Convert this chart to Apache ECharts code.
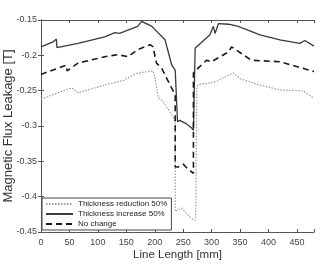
<!DOCTYPE html>
<html>
<head>
<meta charset="utf-8">
<script src="https://cdn.jsdelivr.net/npm/echarts@6/dist/echarts.min.js"></script>
<style>
  html, body { margin: 0; padding: 0; background: #fff; }
  #chart { width: 327px; height: 264px; }
</style>
</head>
<body>
<div id="chart"></div>
<script>
const seriesNames = ["Thickness reduction 50%", "Thickness increase 50%", "No change"];

// Thickness reduction 50% (dotted)
const reductionX = [0, 50, 56, 65, 112, 147, 156, 170, 197, 200, 206, 215, 230, 236, 236, 247, 256, 268, 272, 274, 282, 291, 309, 318, 338, 350, 385, 420, 455, 462, 480];
const reductionY = [-0.262, -0.247, -0.247, -0.253, -0.242, -0.235, -0.230, -0.225, -0.222, -0.230, -0.259, -0.266, -0.284, -0.294, -0.421, -0.416, -0.424, -0.433, -0.433, -0.244, -0.240, -0.240, -0.237, -0.233, -0.225, -0.233, -0.242, -0.249, -0.250, -0.251, -0.261];

// Thickness increase 50% (solid)
const increaseX = [0, 21, 27, 28, 65, 112, 130, 138, 170, 177, 180, 195, 218, 230, 236, 240, 244, 256, 265, 268, 271, 297, 303, 306, 312, 330, 347, 356, 385, 420, 455, 464, 480];
const increaseY = [-0.188, -0.181, -0.177, -0.189, -0.183, -0.174, -0.168, -0.169, -0.159, -0.152, -0.154, -0.159, -0.178, -0.214, -0.221, -0.294, -0.292, -0.297, -0.303, -0.306, -0.190, -0.171, -0.159, -0.169, -0.155, -0.156, -0.159, -0.162, -0.171, -0.178, -0.183, -0.179, -0.187];

// No change (dashed)
const noChangeX = [0, 44, 46, 53, 65, 112, 135, 153, 170, 192, 197, 203, 212, 227, 236, 236, 241, 250, 256, 268, 268, 271, 279, 291, 300, 315, 330, 335, 370, 420, 480];
const noChangeY = [-0.227, -0.214, -0.222, -0.218, -0.211, -0.202, -0.199, -0.202, -0.192, -0.185, -0.188, -0.211, -0.218, -0.242, -0.256, -0.358, -0.358, -0.354, -0.359, -0.367, -0.225, -0.225, -0.216, -0.207, -0.209, -0.202, -0.195, -0.188, -0.207, -0.209, -0.223];

const yTicks = ["-0.45", "-0.4", "-0.35", "-0.3", "-0.25", "-0.2", "-0.15"];

const zip = (xs, ys) => xs.map((x, i) => [x, ys[i]]);

const FONT = "'Liberation Sans', Arial, sans-serif";
const AXIS_COLOR = "#555";
const TEXT_COLOR = "#444";

const chart = echarts.init(document.getElementById("chart"), null, { renderer: "canvas" });

const hiddenAxis = {
  axisLine: { show: true, lineStyle: { color: AXIS_COLOR, width: 1 } },
  axisTick: { show: true, inside: true, length: 3, lineStyle: { color: AXIS_COLOR } },
  axisLabel: { show: false },
  splitLine: { show: false },
};

chart.setOption({
  animation: false,
  backgroundColor: "#fff",
  grid: { left: 41, right: 13, top: 20, bottom: 32, containLabel: false, outerBoundsMode: "none" },
  legend: {
    orient: "vertical",
    left: 42,
    bottom: 34,
    data: seriesNames,
    itemWidth: 27,
    itemHeight: 8,
    itemGap: 2,
    padding: [2, 4, 2, 3],
    borderColor: "#444",
    borderWidth: 1,
    backgroundColor: "#fff",
    itemStyle: { opacity: 0 },
    textStyle: { fontFamily: FONT, fontSize: 8, color: "#222" },
  },
  xAxis: [
    {
      type: "value",
      min: 0,
      max: 480,
      interval: 50,
      name: "Line Length [mm]",
      nameLocation: "middle",
      nameGap: 17,
      nameMoveOverlap: false,
      nameTextStyle: { fontFamily: FONT, fontSize: 11.5, color: "#333" },
      axisLine: { show: true, onZero: false, lineStyle: { color: AXIS_COLOR, width: 1 } },
      axisTick: { show: true, inside: true, length: 3, lineStyle: { color: AXIS_COLOR } },
      axisLabel: {
        fontFamily: FONT, fontSize: 9, color: TEXT_COLOR, margin: 6,
        formatter: (v) => (v > 450 ? "" : String(v)),
      },
      splitLine: { show: false },
    },
    { type: "value", position: "top", min: 0, max: 480, interval: 50, ...hiddenAxis },
  ],
  yAxis: [
    {
      type: "value",
      min: -0.45,
      max: -0.15,
      interval: 0.05,
      name: "Magnetic Flux Leakage [T]",
      nameLocation: "middle",
      nameGap: 26,
      nameMoveOverlap: false,
      nameTextStyle: { fontFamily: FONT, fontSize: 13, color: "#333" },
      axisLine: { show: true, onZero: false, lineStyle: { color: AXIS_COLOR, width: 1 } },
      axisTick: { show: true, inside: true, length: 3, lineStyle: { color: AXIS_COLOR } },
      axisLabel: {
        fontFamily: FONT, fontSize: 9, color: TEXT_COLOR, margin: 4,
        showMinLabel: true,
        formatter: (v) => yTicks[Math.round((v + 0.45) / 0.05)] ?? "",
      },
      splitLine: { show: false },
    },
    { type: "value", position: "right", min: -0.45, max: -0.15, interval: 0.05, ...hiddenAxis },
  ],
  series: [
    {
      name: seriesNames[0],
      type: "line",
      data: zip(reductionX, reductionY),
      symbol: "none",
      z: 2,
      lineStyle: { color: "#9a9a9a", width: 1.2, type: [1.5, 1.5] },
      itemStyle: { color: "#9a9a9a" },
    },
    {
      name: seriesNames[1],
      type: "line",
      data: zip(increaseX, increaseY),
      symbol: "none",
      z: 3,
      lineStyle: { color: "#3a3a3a", width: 1.3, type: "solid" },
      itemStyle: { color: "#3a3a3a" },
    },
    {
      name: seriesNames[2],
      type: "line",
      data: zip(noChangeX, noChangeY),
      symbol: "none",
      z: 4,
      lineStyle: { color: "#1a1a1a", width: 1.6, type: [6, 4] },
      itemStyle: { color: "#1a1a1a" },
    },
  ],
});
</script>
</body>
</html>
